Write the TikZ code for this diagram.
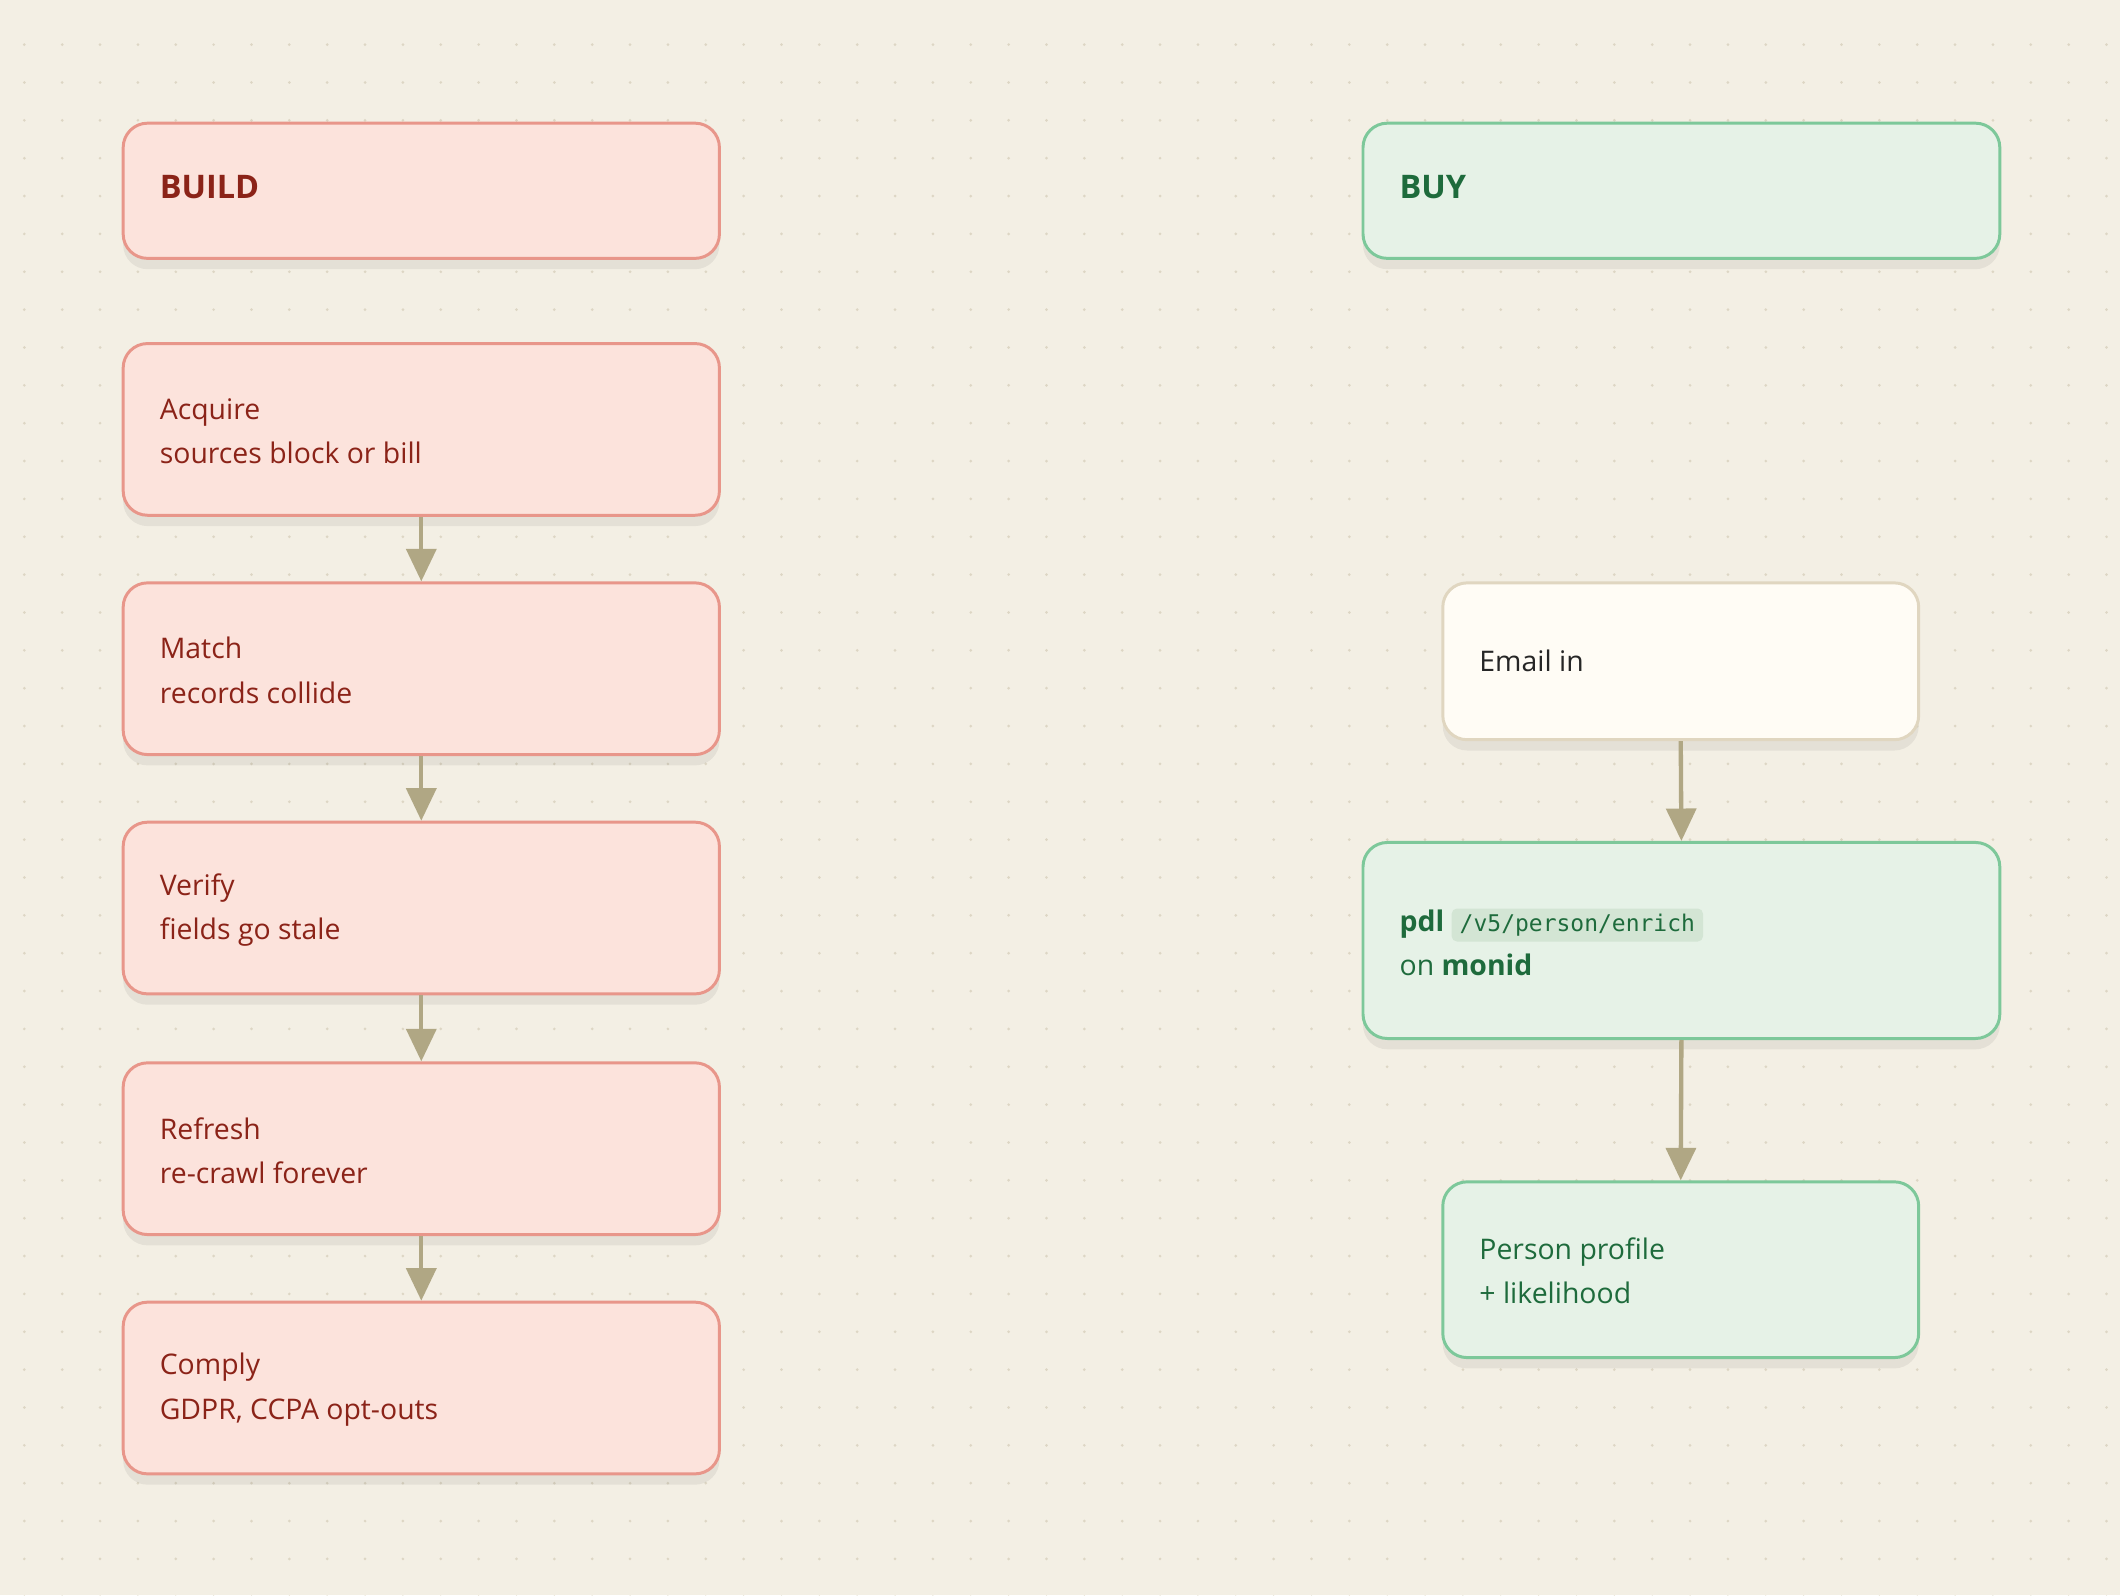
\documentclass[tikz,border=0pt]{standalone}
\usepackage{fontspec}
\setmainfont{Open Sans}
\newfontfamily\monof{DejaVu Sans Mono}
\usetikzlibrary{arrows.meta,shadows}
\definecolor{bg}{HTML}{F3EFE4}
\definecolor{dotc}{HTML}{DDD6C4}
\definecolor{rf}{HTML}{FCE3DC}
\definecolor{rb}{HTML}{E8968A}
\definecolor{rt}{HTML}{8B2318}
\definecolor{gf}{HTML}{E6F2E7}
\definecolor{gb}{HTML}{7DC89A}
\definecolor{gt}{HTML}{1E6B3C}
\definecolor{ef}{HTML}{FFFCF5}
\definecolor{eb}{HTML}{E0D6C0}
\definecolor{arr}{HTML}{B0A784}
\definecolor{codebg}{HTML}{D3E5D4}
\tikzset{
 box/.style={rounded corners=18pt,line width=2.2pt,anchor=north west,inner sep=0pt,
   drop shadow={shadow xshift=0pt,shadow yshift=-8pt,opacity=0.06,fill=black}},
 red/.style={box,fill=rf,draw=rb},
 grn/.style={box,fill=gf,draw=gb},
 eml/.style={box,fill=ef,draw=eb},
 lbl/.style={anchor=west,align=left,inner sep=0pt,font=\fontsize{21}{33}\selectfont},
 hd/.style={anchor=west,inner sep=0pt,font=\fontsize{24}{30}\selectfont\bfseries},
 ar/.style={draw=arr,line width=3.2pt,-{Triangle[length=24pt,width=22pt]}},
}
\begin{document}
\begin{tikzpicture}[x=1pt,y=-1pt]
\fill[bg] (0,0) rectangle (1568,1180);
\useasboundingbox (0,0) rectangle (1568,1180);
\foreach \i in {0,...,55}{\foreach \j in {0,...,41}{
 \fill[dotc] (18+28*\i,33+28*\j) circle (1.1pt);}}
% left
\node[red,minimum width=441pt,minimum height=100pt] (build) at (90,90) {};
\node[hd,text=rt] at (118,138) {BUILD};
\foreach \n/\y/\a/\b in {acq/253/Acquire/sources block or bill,mat/430/Match/records collide,ver/607/Verify/fields go stale,ref/785/Refresh/re-crawl forever,com/962/Comply/{GDPR, CCPA opt-outs}}{
 \node[red,minimum width=441pt,minimum height=127pt] (\n) at (90,\y) {};
 \node[lbl,text=rt] at (118,\y+66) {\a\\\b};
}
\foreach \p/\q in {acq/mat,mat/ver,ver/ref,ref/com}{\draw[ar] (\p.south) -- (\q.north);}
% right
\node[grn,minimum width=471pt,minimum height=100pt] (buy) at (1007,90) {};
\node[hd,text=gt] at (1035,138) {BUY};
\node[eml,minimum width=352pt,minimum height=116pt] (email) at (1066,430) {};
\node[lbl,text=black!85] at (1094,489) {Email in};
\node[grn,minimum width=471pt,minimum height=145pt] (pdl) at (1007,622) {};
\node[lbl,text=gt] at (1035,697) {\textbf{pdl} \tikz[baseline=(c.base)]\node[fill=codebg,rounded corners=4pt,inner xsep=6pt,inner ysep=4pt] (c) {\monof\fontsize{17}{20}\selectfont /v5/person/enrich};\\on \textbf{monid}};
\node[grn,minimum width=352pt,minimum height=130pt] (prof) at (1066,873) {};
\node[lbl,text=gt] at (1094,940) {Person profile\\+ likelihood};
\draw[ar] (email.south) -- (pdl.north);
\draw[ar] (pdl.south) -- (prof.north);
\end{tikzpicture}
\end{document}
